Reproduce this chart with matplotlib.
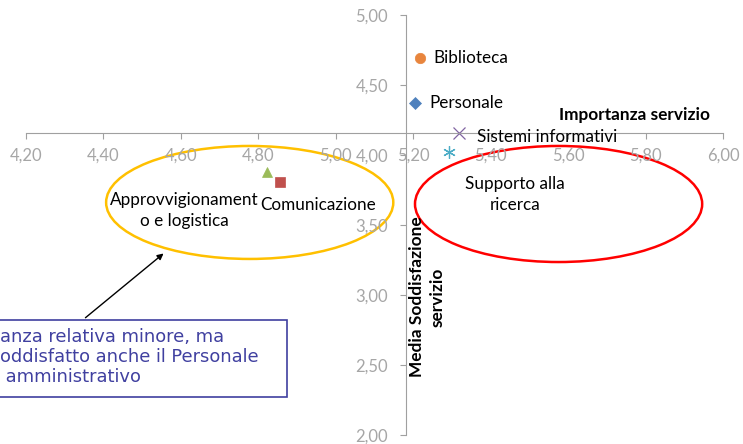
import matplotlib.pyplot as plt
from matplotlib.patches import Ellipse, Rectangle

# dati
servizi = ['Biblioteca', 'Personale', 'Sistemi informativi', 'Supporto alla\nricerca',
           'Approvvigionament\no e logistica', 'Comunicazione']
importanza = [5.218, 5.205, 5.317, 5.293, 4.822, 4.856]
soddisfazione = [4.69, 4.374, 4.155, 4.024, 3.881, 3.81]
x_ticks = [4.2, 4.4, 4.6, 4.8, 5.0, 5.2, 5.4, 5.6, 5.8, 6.0]
y_ticks = [2.0, 2.5, 3.0, 3.5, 4.0, 4.5, 5.0]

marker = ['o', 'D', 'x', (6, 2, 0), '^', 's']
colori = ['#E8853D', '#4F81BD', '#8064A2', '#4BACC6', '#9BBB59', '#C0504D']
msize = [7.5, 6, 8, 9, 7.5, 7.5]
# posizione etichette (dati) e allineamento
lab_pos = [(5.251, 4.69, 'left'), (5.241, 4.374, 'left'), (5.364, 4.129, 'left'),
           (5.463, 3.718, 'center'), (4.61, 3.604, 'center'), (4.954, 3.643, 'center')]

plt.rcParams['font.family'] = ['Lato', 'DejaVu Sans']
fig = plt.figure(figsize=(7.43, 4.44), dpi=100)
ax = fig.add_axes([25.7/743, 9/444, 697.6/743, 420/444])
ax.set_xlim(4.2, 6.0)
ax.set_ylim(2.0, 5.0)

for i in range(len(servizi)):
    ax.plot(importanza[i], soddisfazione[i], linestyle='none', marker=marker[i],
            color=colori[i], markersize=msize[i], markeredgewidth=0.9 if i in (2, 3) else 0.5)
    tx, ty, ha = lab_pos[i]
    ax.text(tx, ty, servizi[i], ha=ha, va='center', fontsize=12.3, color='black',
            linespacing=1.45)

ax.spines['left'].set_position(('data', 5.18))
ax.spines['bottom'].set_position(('data', 4.155))
ax.spines['top'].set_visible(False)
ax.spines['right'].set_visible(False)
for s in ['left', 'bottom']:
    ax.spines[s].set_color('#A0A0A0')
ax.set_xticks(x_ticks)
ax.set_xticklabels([('%.2f' % v).replace('.', ',') for v in x_ticks])
ax.set_yticks(y_ticks)
ax.set_yticklabels([('%.2f' % v).replace('.', ',') for v in y_ticks])
ax.tick_params(axis='x', direction='out', length=4.5, color='#A0A0A0', labelcolor='#A6A6A6',
               labelsize=12, pad=6)
ax.tick_params(axis='y', direction='out', length=4.5, color='#A0A0A0', labelcolor='#A6A6A6',
               labelsize=12, pad=8)

ax.text(5.966, 4.286, 'Importanza servizio', ha='right', va='center', fontsize=12.4,
        fontweight='bold')
ax.text(5.236, 2.986, 'Media Soddisfazione\nservizio', ha='center', va='center', fontsize=12.4,
        fontweight='bold', rotation=90, linespacing=1.3)

ax.add_patch(Ellipse((4.778, 3.661), 0.741, 0.807, fill=False, edgecolor='#FFC000', lw=1.8))
ax.add_patch(Ellipse((5.575, 3.65), 0.741, 0.829, fill=False, edgecolor='#FF0000', lw=1.8))

# riquadro di commento (tagliato a sinistra come nell'originale)
fig.patches.append(Rectangle((-10/743, (444-397)/444), 297/743, 77/444, transform=fig.transFigure,
                             fill=False, edgecolor='#3F3F9F', lw=1.2))
fig.text(0.5/743, (444-357)/444, 'anza relativa minore, ma\noddisfatto anche il Personale\n amministrativo',
         ha='left', va='center', fontsize=12.9, color='#4040A0', family='DejaVu Sans',
         linespacing=1.15)
ax.annotate('', xy=(165.7, 444-251.7), xycoords='figure pixels',
            xytext=(83.3, 444-319.5), textcoords='figure pixels',
            arrowprops=dict(arrowstyle='-|>', color='black', lw=1, mutation_scale=9))

plt.savefig('out.png', dpi=100)
